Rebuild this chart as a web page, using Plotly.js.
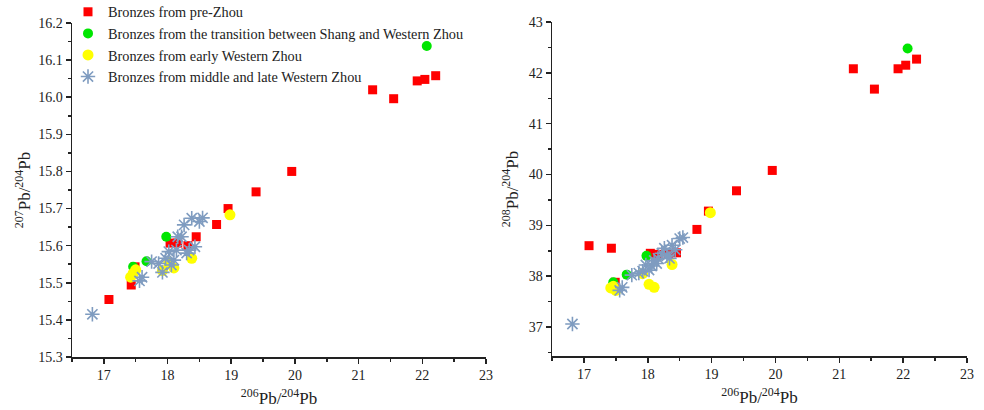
<!DOCTYPE html>
<html>
<head>
<meta charset="utf-8">
<script src="https://cdn.plot.ly/plotly-3.0.1.min.js"></script>
<style>html,body{margin:0;padding:0;background:#fff;}#chart{width:984px;height:410px;}</style>
</head>
<body>
<div id="chart"></div>
<script>
// Series names
const seriesNames = [
  "Bronzes from pre-Zhou",
  "Bronzes from the transition between Shang and Western Zhou",
  "Bronzes from early Western Zhou",
  "Bronzes from middle and late Western Zhou"
];

// pre-Zhou
const preZhouX   = [17.08, 17.43, 17.49, 18.04, 18.16, 18.32, 18.45, 18.77, 18.95, 19.39, 19.95, 21.22, 21.55, 21.92, 22.04, 22.21];
const preZhou207 = [15.455, 15.494, 15.543, 15.607, 15.607, 15.600, 15.624, 15.657, 15.700, 15.745, 15.800, 16.020, 15.996, 16.044, 16.048, 16.058];
const preZhou208 = [38.60, 38.55, 37.88, 38.45, 38.43, 38.43, 38.46, 38.92, 39.28, 39.68, 40.08, 42.08, 41.68, 42.08, 42.15, 42.27];

// transition between Shang and Western Zhou
const transX   = [17.46, 17.67, 17.98, 22.07];
const trans207 = [15.543, 15.558, 15.624, 16.138];
const trans208 = [37.88, 38.03, 38.40, 42.48];

// early Western Zhou
const earlyX   = [17.42, 17.46, 17.50, 17.92, 18.02, 18.10, 18.38, 18.98];
const early207 = [15.515, 15.525, 15.535, 15.533, 15.555, 15.540, 15.566, 15.683];
const early208 = [37.77, 37.80, 37.72, 38.05, 37.84, 37.78, 38.23, 39.25];

// middle and late Western Zhou
const lateX   = [16.82, 17.56, 17.60, 17.75, 17.86, 17.92, 17.97, 18.02, 18.06, 18.10, 18.14, 18.16, 18.22, 18.26, 18.30, 18.34, 18.38, 18.43, 18.50, 18.55];
const late207 = [15.415, 15.505, 15.515, 15.557, 15.552, 15.528, 15.566, 15.584, 15.548, 15.561, 15.588, 15.624, 15.624, 15.656, 15.580, 15.588, 15.674, 15.597, 15.665, 15.675];
const late208 = [37.06, 37.72, 37.78, 38.02, 38.06, 38.10, 38.22, 38.12, 38.20, 38.31, 38.25, 38.35, 38.45, 38.55, 38.40, 38.35, 38.61, 38.52, 38.74, 38.76];

const xTickVals = [17, 18, 19, 20, 21, 22, 23];

const styles = [
  {symbol: "square", size: 9, color: "#ff0000", line: {width: 0}},
  {symbol: "circle", size: 10, color: "#00e600", line: {width: 0}},
  {symbol: "circle", size: 11, color: "#ffff00", line: {width: 0}},
  {symbol: "asterisk-open", size: 12, color: "#7f9cc0", line: {width: 1.6, color: "#7f9cc0"}}
];

const leftSets = [[preZhouX, preZhou207], [transX, trans207], [earlyX, early207], [lateX, late207]];
const rightSets = [[preZhouX, preZhou208], [transX, trans208], [earlyX, early208], [lateX, late208]];

const traces = [];
leftSets.forEach((s, i) => {
  traces.push({x: s[0], y: s[1], type: "scatter", mode: "markers", name: seriesNames[i],
    marker: styles[i], xaxis: "x", yaxis: "y", showlegend: true, legendgroup: "g" + i});
});
rightSets.forEach((s, i) => {
  traces.push({x: s[0], y: s[1], type: "scatter", mode: "markers", name: seriesNames[i],
    marker: styles[i], xaxis: "x2", yaxis: "y2", showlegend: false, legendgroup: "g" + i});
});

const FAM = "Liberation Serif";
const INK = "#222";
const W = 984, H = 410;
const axBase = {
  showgrid: false, zeroline: false, showline: true, linecolor: INK, linewidth: 1.5,
  ticks: "outside", ticklen: 5, tickwidth: 1.5, tickcolor: INK,
  tickfont: {family: FAM, size: 14, color: INK},
  mirror: false, automargin: false
};
function xAxis(domain, anchor) {
  return Object.assign({}, axBase, {
    domain: domain, anchor: anchor, range: [16.5, 23], tickvals: xTickVals,
    minor: {dtick: 0.5, tick0: 16.5, ticks: "outside", ticklen: 3, tickwidth: 1.5, tickcolor: INK},
    title: {text: "<sup>206</sup>Pb/<sup>204</sup>Pb", font: {family: FAM, size: 17, color: INK}, standoff: 10}
  });
}
const layout = {
  width: W, height: H,
  margin: {l: 0, r: 0, t: 0, b: 0, autoexpand: false},
  paper_bgcolor: "#fff", plot_bgcolor: "#fff",
  font: {family: FAM, size: 14, color: INK},
  showlegend: true,
  legend: {x: 68 / W, y: 1 + 4 / H, xanchor: "left", yanchor: "top", bgcolor: "rgba(0,0,0,0)",
    font: {family: FAM, size: 14.3, color: INK}, tracegroupgap: 0},
  xaxis: xAxis([72 / W, 486 / W], "y"),
  xaxis2: xAxis([552 / W, 967 / W], "y2"),
  yaxis: Object.assign({}, axBase, {
    domain: [(H - 357) / H, (H - 23) / H], anchor: "x", range: [15.3, 16.2], dtick: 0.1, tick0: 15.3, tickformat: ".1f",
    minor: {dtick: 0.05, ticks: "outside", ticklen: 3, tickwidth: 1.5, tickcolor: INK},
    title: {text: "<sup>207</sup>Pb/<sup>204</sup>Pb", font: {family: FAM, size: 17, color: INK}, standoff: 3}
  }),
  yaxis2: Object.assign({}, axBase, {
    domain: [(H - 356) / H, (H - 22) / H], anchor: "x2", range: [36.43, 43], dtick: 1, tick0: 37,
    minor: {dtick: 0.5, ticks: "outside", ticklen: 3, tickwidth: 1.5, tickcolor: INK},
    title: {text: "<sup>208</sup>Pb/<sup>204</sup>Pb", font: {family: FAM, size: 17, color: INK}, standoff: 6}
  })
};
Plotly.newPlot("chart", traces, layout, {displayModeBar: false, staticPlot: true});
</script>
</body>
</html>
